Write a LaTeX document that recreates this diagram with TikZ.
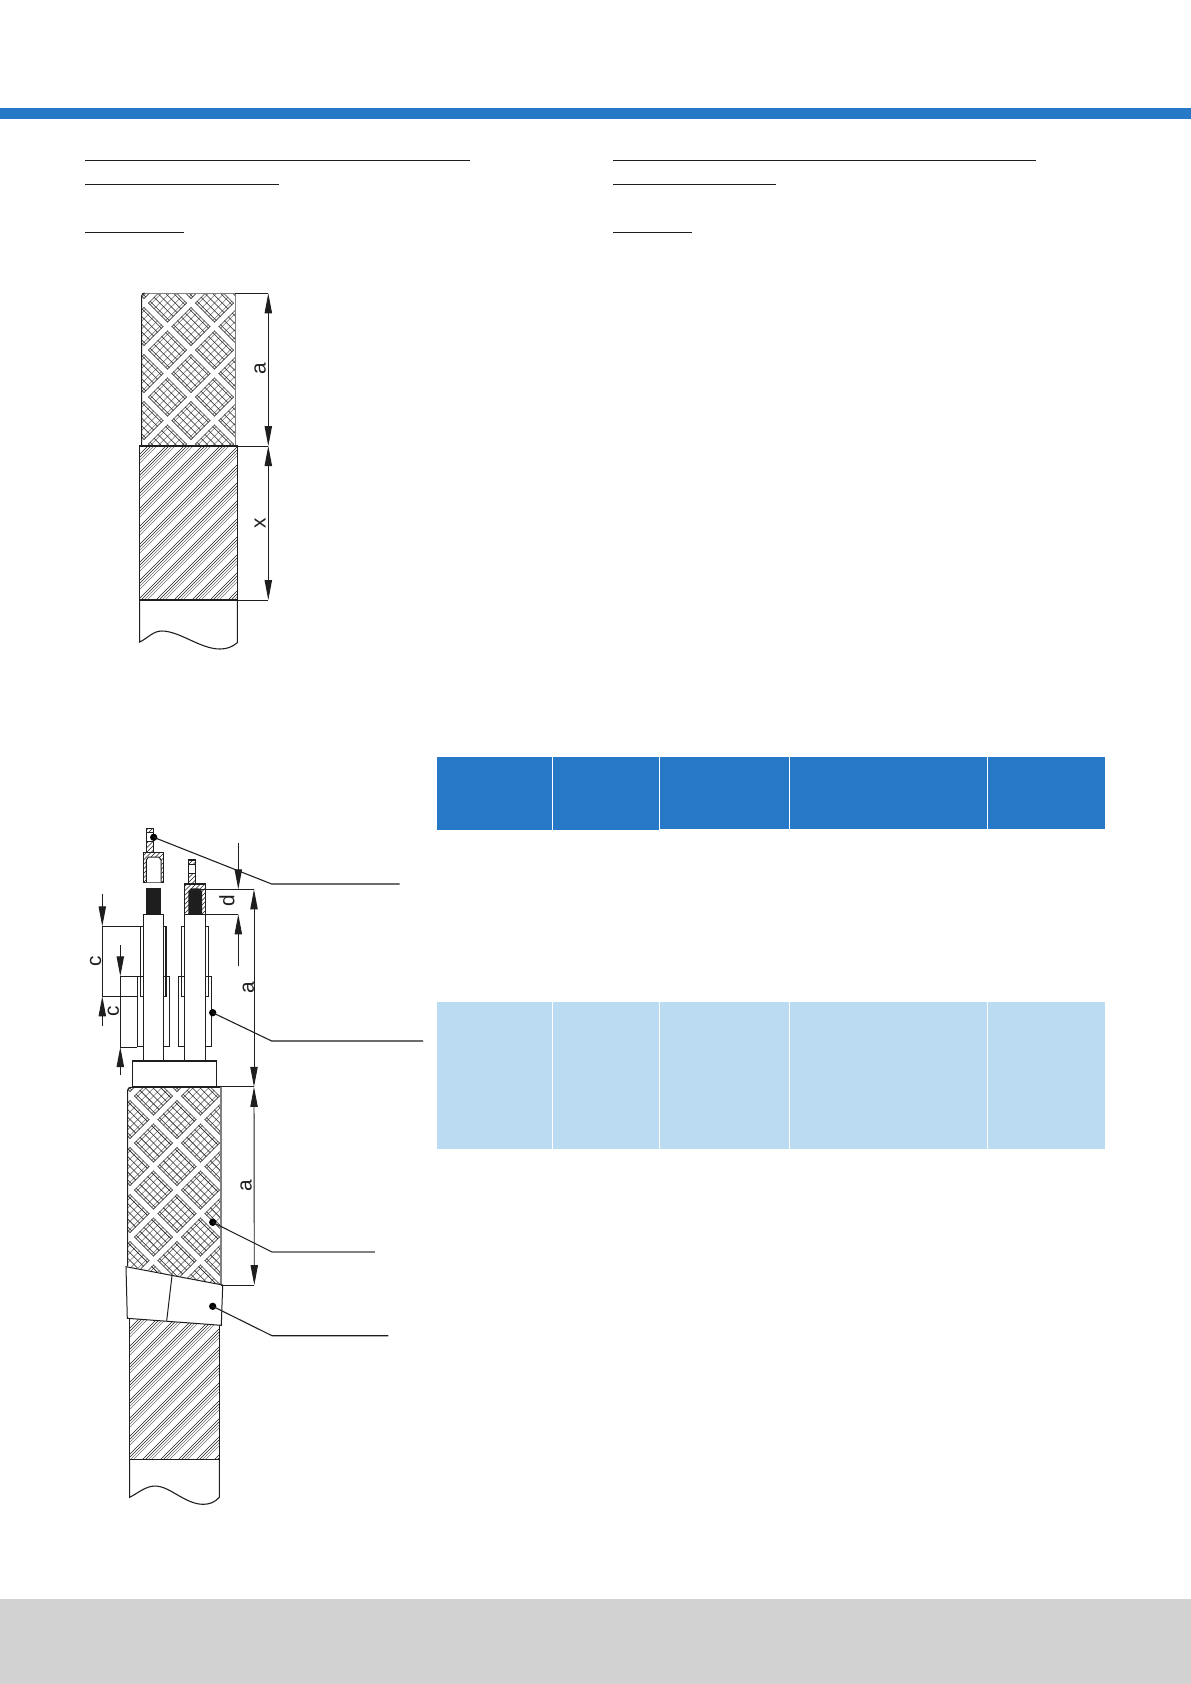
\documentclass[tikz,border=0pt]{standalone}
\usepackage{fontspec}
\setmainfont{Liberation Sans}
\usetikzlibrary{arrows.meta}
\definecolor{barblue}{HTML}{2878C8}
\definecolor{rowblue}{HTML}{BBDBF2}
\definecolor{footgrey}{HTML}{D2D2D2}
\definecolor{ink}{HTML}{1E1E1E}
\tikzset{
  body/.style={draw=ink,line width=.65pt,line join=miter},
  fine/.style={draw=ink,line width=.34pt},
  finegrey/.style={draw=black!55,line width=.34pt},
  rule/.style={draw=ink,line width=1pt},
  ext/.style={draw=ink,line width=.55pt},
  tip/.tip={Triangle[length=12pt,width=4.4pt]},
  dimboth/.style={ext,{tip}-{tip}},
  dimend/.style={ext,-{tip}},
  dimlabel/.style={rotate=90,font=\fontsize{12.5}{12.5}\selectfont,text=ink,inner sep=0pt},
  dotmark/.style={circle,fill=black,minimum size=4.4pt,inner sep=0pt},
  leader/.style={draw=ink,line width=.65pt},
}
% fine cross-hatching with white bands
\newcommand{\braidfill}[8]{%
  \foreach \i in {#5,...,#6}{%
    \pgfmathsetmacro\ss{#1+47*\i/6}%
    \draw[finegrey] ({\ss-#3},#3) -- ({\ss-#4},#4);}%
  \foreach \j in {#7,...,#8}{%
    \pgfmathsetmacro\dd{#2+47*\j/6}%
    \draw[fine] ({\dd+#3},#3) -- ({\dd+#4},#4);}%
  \pgfmathtruncatemacro\pa{floor(#5/6)}\pgfmathtruncatemacro\pb{ceil(#6/6)}%
  \pgfmathtruncatemacro\qa{floor(#7/6)}\pgfmathtruncatemacro\qb{ceil(#8/6)}%
  \foreach \k in {\pa,...,\pb}{%
    \pgfmathsetmacro\ss{#1+47*\k}%
    \draw[fine] ({\ss-4.4-#3},#3) -- ({\ss-4.4-#4},#4);
    \draw[fine] ({\ss+4.4-#3},#3) -- ({\ss+4.4-#4},#4);}%
  \foreach \k in {\qa,...,\qb}{%
    \pgfmathsetmacro\dd{#2+47*\k}%
    \draw[fine] ({\dd-4.4+#3},#3) -- ({\dd-4.4+#4},#4);
    \draw[fine] ({\dd+4.4+#3},#3) -- ({\dd+4.4+#4},#4);}%
  \foreach \k in {\pa,...,\pb}{%
    \pgfmathsetmacro\ss{#1+47*\k}%
    \draw[white,line width=3pt] ({\ss-#3},#3) -- ({\ss-#4},#4);}%
  \foreach \k in {\qa,...,\qb}{%
    \pgfmathsetmacro\dd{#2+47*\k}%
    \draw[white,line width=3pt] ({\dd+#3},#3) -- ({\dd+#4},#4);}%
}
% diagonal line clusters
\newcommand{\clusterfill}[4]{%
  \foreach \k in {#3,...,#4}{%
    \pgfmathsetmacro\ss{18*\k}%
    \draw[fine] ({\ss-#1},#1) -- ({\ss-#2},#2);
    \draw[fine] ({\ss+3-#1},#1) -- ({\ss+3-#2},#2);
    \draw[finegrey] ({\ss+6-#1},#1) -- ({\ss+6-#2},#2);
    \draw[finegrey] ({\ss+9-#1},#1) -- ({\ss+9-#2},#2);}%
}
% contact hatch
\newcommand{\contacthatch}[4]{%
  \foreach \k in {#3,...,#4}{%
    \pgfmathsetmacro\ss{4.5*\k}%
    \draw[line width=.3pt,draw=ink] ({\ss-#1},#1) -- ({\ss-#2},#2);}%
}
\begin{document}
\begin{tikzpicture}[x=0.6pt,y=-0.6pt]
\useasboundingbox (0,0) rectangle (1191,1684);
\fill[white] (0,0) rectangle (1191,1684);
% page furniture
\fill[barblue] (0,108) rectangle (1191,119);
\fill[footgrey] (0,1599) rectangle (1191,1684);
\draw[rule] (85,160.5) -- (470,160.5);
\draw[rule] (85,184.5) -- (279,184.5);
\draw[rule] (85,232.5) -- (184,232.5);
\draw[rule] (613,160.5) -- (1036,160.5);
\draw[rule] (613,184.5) -- (776,184.5);
\draw[rule] (613,232.5) -- (692,232.5);
% table
\fill[barblue] (437,757) rectangle (552,830);
\fill[barblue] (553,757) rectangle (659.4,830);
\fill[barblue] (660,757) rectangle (789,829);
\fill[barblue] (790,757) rectangle (987,829);
\fill[barblue] (988,757) rectangle (1105,829);
\fill[rowblue] (437,1002) rectangle (552,1149);
\fill[rowblue] (553,1002) rectangle (659.4,1149);
\fill[rowblue] (660,1002) rectangle (789,1149);
\fill[rowblue] (790,1002) rectangle (987,1149);
\fill[rowblue] (988,1002) rectangle (1105,1149);

% ---------- upper cable ----------
\begin{scope}
  \clip (141.7,446) -- (141.7,296) arc[start angle=180,end angle=270,radius=3] -- (235.3,293) -- (235.3,446) -- cycle;
  \braidfill{494}{-112}{285}{455}{-8}{24}{-30}{12}
\end{scope}
\draw[body] (141.7,446) -- (141.7,296) arc[start angle=180,end angle=270,radius=3];
\draw[draw=black!50,line width=.65pt] (144.7,293.3) -- (235.3,293.3) -- (235.3,446);
\begin{scope}
  \clip (139.7,446) rectangle (237.3,600);
  \clusterfill{440}{606}{32}{47}
\end{scope}
\draw[body] (139.7,446) rectangle (237.3,600);
\draw[body] (139.7,600) -- (139.7,642) .. controls (148,638) and (153,631) .. (161.7,631) .. controls (180,631) and (200,649) .. (220,649) .. controls (227,649) and (232,647) .. (237.3,642.7) -- (237.3,600);
% dimensions
\coordinate (u1) at (268.3,293.3);
\coordinate (u2) at (268.3,446);
\coordinate (u3) at (268.3,600);
\draw[ext] (235.3,293.3) -- (u1);
\draw[ext] (237.3,446) -- (u2);
\draw[ext] (237.3,600) -- (u3);
\draw[dimboth] (u1) -- (u2);
\draw[dimboth] (u2) -- (u3);
\node[dimlabel] (ua) at (260,369) {a};
\node[dimlabel] (ux) at (260,523) {x};

% ---------- lower cable: braid ----------
\begin{scope}
  \clip (127.7,1266) -- (127.7,1090) arc[start angle=180,end angle=270,radius=3] -- (221,1087.3) -- (221,1285) -- cycle;
  \braidfill{1320}{-966}{1080}{1295}{-18}{24}{-30}{18}
\end{scope}
\draw[body] (127.7,1266) -- (127.7,1090.3) arc[start angle=180,end angle=270,radius=3] -- (221,1087.3);
\draw[draw=black!50,line width=.65pt] (221,1087.3) -- (221,1285);
% hatched part
\begin{scope}
  \clip (129.7,1310) rectangle (219.3,1459.3);
  \clusterfill{1305}{1465}{79}{94}
\end{scope}
\draw[body] (129.7,1318) -- (129.7,1459.3) -- (219.3,1459.3) -- (219.3,1325);
\draw[body] (129.7,1459.3) -- (129.7,1497.3) .. controls (138,1493) and (146,1486) .. (155,1486) .. controls (170,1486) and (185,1504.3) .. (203.3,1504.3) .. controls (210,1504.3) and (215,1502) .. (219.3,1497.3) -- (219.3,1459.3);
% tape
\draw[body,line width=.6pt,fill=white] (126,1266.7) -- (222.7,1285) -- (221.3,1325.3) -- (127.3,1318.3) -- cycle;
\draw[body,line width=.6pt] (172,1275.7) -- (166.7,1320.7);

% base
\draw[body,fill=white] (132.3,1061) rectangle (216.3,1086.9);
% conductors
\draw[body,fill=white] (143.3,914.3) rectangle (163.5,1061);
\draw[body,fill=white] (184.3,914.3) rectangle (205.7,1061);
% sleeves, outer pieces
\foreach \xa/\xb in {137.3/143.3,163.5/169.3,178.3/184.3,205.7/211.7}{
  \draw[fine,line width=.55pt] (\xa,976.3) rectangle (\xb,1046.7);
}
\foreach \xa/\xb in {140.7/143.3,163.5/166,181.7/184.3,205.7/208.3}{
  \draw[body,line width=.7pt] (\xa,926.3) rectangle (\xb,996.3);
}
% contact, left
\fill[ink] (146.3,888) rectangle (160.8,914.3);
\begin{scope}
  \clip (146.5,828.3) rectangle (153.7,852.5);
  \contacthatch{825}{855}{215}{225}
\end{scope}
\begin{scope}
  \clip (143.7,852.3) rectangle (163.7,882.3);
  \contacthatch{850}{885}{220}{245}
\end{scope}
\fill[white] (146.7,832.3) rectangle (153.5,841.5);
\draw[body] (146.5,828.3) rectangle (153.7,841.7);
\draw[fine] (146.5,832) -- (153.7,832);
\draw[body] (146.5,841.7) -- (146.5,852.3) (153.7,841.7) -- (153.7,852.3);
\draw[body] (143.7,852.3) rectangle (163.7,882.3);
\draw[body,fill=white,line width=.6pt] (146.3,882.3) -- (146.3,860) -- (148.5,857) -- (159,857) -- (161,860) -- (161,882.3);
% contact, right
\begin{scope}
  \clip (188.7,860) rectangle (195.3,884);
  \contacthatch{855}{888}{232}{245}
\end{scope}
\begin{scope}
  \clip (184.7,884) rectangle (205.5,914.3);
  \contacthatch{880}{918}{237}{252}
\end{scope}
\fill[white] (188.9,864.3) rectangle (195.1,873);
\draw[body] (188.7,860) rectangle (195.3,873.3);
\draw[fine] (188.7,864) -- (195.3,864);
\draw[body] (188.7,873.3) -- (188.7,884) (195.3,873.3) -- (195.3,884);
\draw[body] (184.7,884) rectangle (205.5,914.3);
\fill[ink] (188.3,914.3) -- (188.3,891) -- (191,888.3) -- (199,888.3) -- (202,891) -- (202,914.3) -- cycle;

% dimensions a, a
\coordinate (l1) at (254,889.3);
\coordinate (l2) at (254,1086.9);
\coordinate (l3) at (254.3,1285);
\draw[ext] (198,889.3) -- (l1);
\draw[ext] (216.3,1086.9) -- (l2);
\draw[ext] (221,1285) -- (l3);
\draw[dimboth] (l1) -- (l2);
\draw[dimboth] (l2) -- (l3);
\node[dimlabel] (la1) at (248.3,987.7) {a};
\node[dimlabel] (la2) at (246,1186) {a};
% dimension d
\coordinate (d1s) at (238.3,843.3);
\coordinate (d1) at (238.3,889.3);
\coordinate (d2) at (238.3,914.3);
\coordinate (d2s) at (238.3,965.7);
\draw[ext] (205.5,914.3) -- (d2);
\draw[dimend] (d1s) -- (d1);
\draw[dimend] (d2s) -- (d2);
\node[dimlabel] (ld) at (227,901) {d};
% dimensions c
\coordinate (c1s) at (102.3,894);
\coordinate (c1) at (102.3,926.3);
\coordinate (c2) at (102.3,996.3);
\coordinate (c2s) at (102.3,1026);
\draw[ext] (c1) -- (140.7,926.3);
\draw[ext] (c2) -- (137.3,996.3);
\draw[dimend] (c1s) -- (c1);
\draw[dimend] (c2s) -- (c2);
\draw[ext] (c1) -- (c2);
\node[dimlabel] (lc1) at (95.7,961) {c};
\coordinate (c3s) at (120.3,945);
\coordinate (c3) at (120.3,976.3);
\coordinate (c4) at (120.3,1047);
\coordinate (c4s) at (120.3,1075);
\draw[ext] (c3) -- (137.3,976.3);
\draw[ext] (c4) -- (137.3,1047);
\draw[dimend] (c3s) -- (c3);
\draw[dimend] (c4s) -- (c4);
\draw[ext] (c3) -- (c4);
\node[dimlabel] (lc2) at (113.3,1011) {c};

% leaders
\node[dotmark] (m1) at (153.7,837.3) {};
\node[dotmark] (m2) at (212.7,1012.7) {};
\node[dotmark] (m3) at (212.7,1222.3) {};
\node[dotmark] (m4) at (212.7,1306.3) {};
\coordinate (k1) at (271.7,884);
\coordinate (e1) at (399.5,884);
\coordinate (k2) at (271.7,1041);
\coordinate (e2) at (423,1041);
\coordinate (k3) at (272,1252);
\coordinate (e3) at (375,1252);
\coordinate (k4) at (272,1335.7);
\coordinate (e4) at (388.3,1335.7);
\draw[leader] (m1.center) -- (k1) -- (e1);
\draw[leader] (m2.center) -- (k2) -- (e2);
\draw[leader] (m3.center) -- (k3);
\draw[leader,draw=black!50] (k3) -- (e3);
\draw[leader] (m4.center) -- (k4) -- (e4);
\end{tikzpicture}
\end{document}
